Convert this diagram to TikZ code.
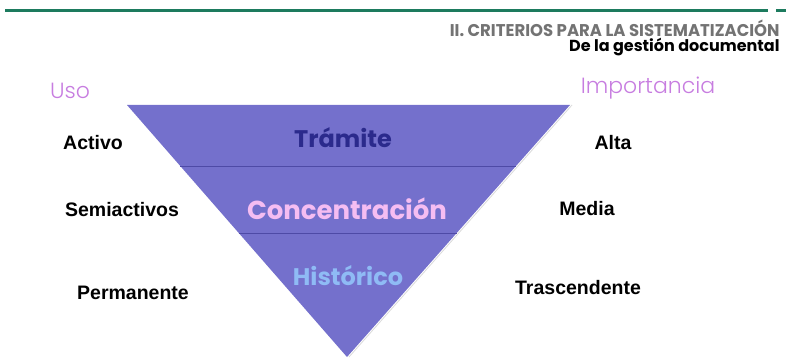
\documentclass[tikz,border=0pt]{standalone}
\usepackage{fontspec}
\setmainfont{Liberation Sans}
\newfontfamily\gothic{Poppins}
\newfontfamily\gothiclight[UprightFont=* Light]{Poppins}
\usepackage{xcolor}
\usepackage{tikz}
\usetikzlibrary{calc, positioning}
\definecolor{barGreen}{HTML}{1D7B5E}
\definecolor{pyrFill}{HTML}{7470CC}
\definecolor{pyrLine}{HTML}{4E4AA6}
\definecolor{txtNavy}{HTML}{2B2A8C}
\definecolor{txtPink}{HTML}{F5BDF2}
\definecolor{txtBlue}{HTML}{8FBBF5}
\definecolor{txtLila}{HTML}{C77DE0}
\newcommand{\fsz}[1]{\fontsize{#1}{#1}\selectfont}
\tikzset{
	lvl/.style={font=\gothic\bfseries\fsz{24}},
	side/.style={font=\bfseries\fsz{19.5}},
	head/.style={font=\gothiclight\fsz{22}, text=txtLila},
}

\begin{document}
\begin{tikzpicture}[x=1pt, y=-1pt]
	\useasboundingbox (0,0) rectangle (786,358);
	% top bar and header
	\draw[barGreen, line width=3pt] (5,11) -- (768,11);
	\draw[barGreen, line width=3pt] (776,11) -- (786,11);
	\node[anchor=east, text=black!55, font=\gothic\bfseries\fsz{17}, xscale=0.97] (title) at (783,28) {II. CRITERIOS PARA LA SISTEMATIZACIÓN};
	\node[anchor=east, font=\gothic\bfseries\fsz{16}, xscale=1.0] (subtitle) at (783,47) {De la gestión documental};
	% pyramid
	\coordinate (tl) at (127,105);
	\coordinate (tr) at (570,105);
	\coordinate (ap) at (347,357);
	\fill[pyrFill] (tl) -- (tr) -- (ap) -- cycle;
	\draw[black!15!white, line width=0.8pt] ($(tr)+(2,0)$) -- ($(ap)+(2,0)$);
	\draw[pyrLine, line width=0.8pt] ($(tl)!0.242!(ap)$) -- ($(tr)!0.242!(ap)$);
	\draw[pyrLine, line width=0.8pt] ($(tl)!0.508!(ap)$) -- ($(tr)!0.508!(ap)$);
	\node[lvl, text=txtNavy] (tram) at (343,138) {Trámite};
	\node[lvl, text=txtPink, font=\gothic\bfseries\fsz{26}] (conc) at (347,209) {Concentración};
	\node[lvl, text=txtBlue] (hist) at (348,276) {Histórico};
	% left column
	\node[head] (uso) at (70,91) {Uso};
	\node[side] (activo) at (93,143) {Activo};
	\node[side] (semi) at (122,210) {Semiactivos};
	\node[side] (perm) at (133,293) {Permanente};
	% right column
	\node[head] (imp) at (648,88) {Importancia};
	\node[side] (alta) at (613,143) {Alta};
	\node[side] (media) at (587,209) {Media};
	\node[side] (trasc) at (578,288) {Trascendente};
\end{tikzpicture}
\end{document}
